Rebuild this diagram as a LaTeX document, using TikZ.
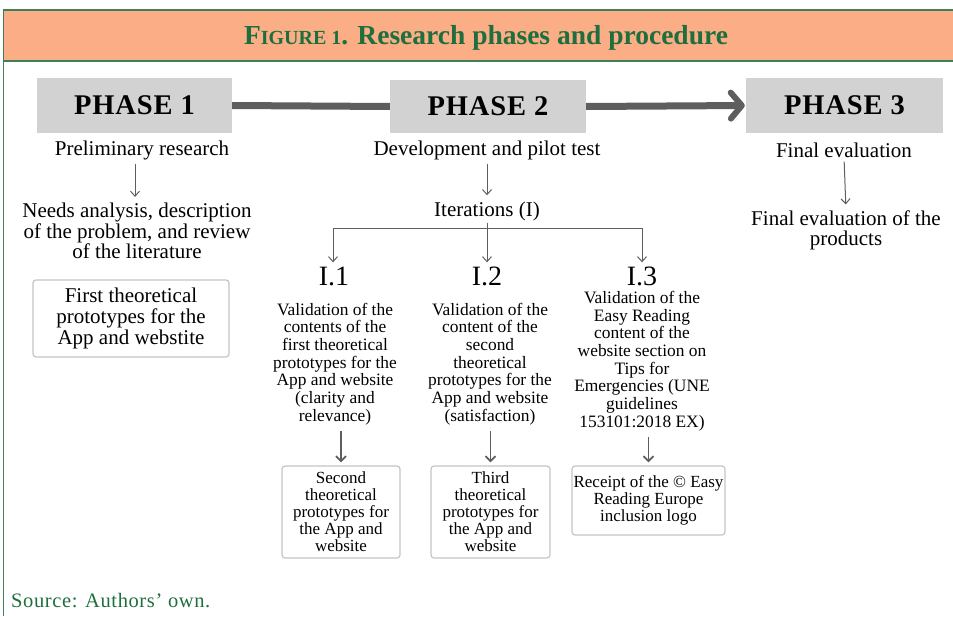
\documentclass[tikz,border=0pt]{standalone}
\usepackage{fontspec}
\setmainfont{Liberation Serif}
\usetikzlibrary{arrows.meta}
\definecolor{hdr}{HTML}{FBAE85}
\definecolor{frm}{HTML}{3F7F5A}
\definecolor{ttl}{HTML}{1F6E3E}
\definecolor{phasefill}{HTML}{D2D2D2}
\definecolor{arr}{HTML}{5E5E5E}
\definecolor{boxline}{HTML}{C4C4C4}
\tikzset{
 phasebox/.style={fill=phasefill, inner sep=0pt, font=\fontsize{28.5}{28.5}\selectfont\bfseries\addfontfeature{LetterSpace=3}},
 body/.style={align=center, font=\fontsize{21}{20.5}\selectfont, inner sep=0pt},
 smalltxt/.style={align=center, font=\fontsize{17.4}{17.7}\selectfont, inner sep=0pt},
 iter/.style={font=\fontsize{28}{28}\selectfont, inner sep=0pt},
 outbox/.style={draw=boxline, line width=1.2pt, rounded corners=3pt, align=center, inner sep=0pt},
 thinarr/.style={draw=arr, line width=1pt, -{Straight Barb[length=5pt,width=9pt]}},
 medarr/.style={draw=arr, line width=1.8pt, -{Straight Barb[length=5pt,width=10pt]}},
 thickline/.style={draw=arr, line width=7pt},
}
\begin{document}
\begin{tikzpicture}[x=1pt,y=-1pt]
\useasboundingbox (0,0) rectangle (953,616);
% header
\fill[hdr] (3,10) rectangle (953,61);
\draw[frm, line width=1.5pt] (953,10) -- (3.5,10) -- (3.5,616);
\draw[frm, line width=1.5pt] (3.5,61) -- (953,61);
\node[text=ttl, inner sep=0pt] (title) at (486,38)
  {\fontsize{27.5}{27.5}\selectfont\bfseries F{\fontsize{20}{20}\selectfont IGURE 1}. Research phases and procedure};
% phases
\node[phasebox, minimum width=195pt, minimum height=55pt] (p1) at (134.5,105.5) {PHASE 1};
\node[phasebox, minimum width=196pt, minimum height=53pt] (p2) at (488,106.5) {PHASE 2};
\node[phasebox, minimum width=197pt, minimum height=55pt] (p3) at (844.5,105.5) {PHASE 3};
\draw[thickline] (p1.east) -- (p2.west);
\draw[thickline, -{Straight Barb[length=11pt,width=26pt,line width=6pt,round]}, shorten >=1pt] (p2.east) -- (p3.west);
% phase 1 column
\node[body] (pr) at (142,150) {Preliminary research};
\node[body] (needs) at (137,231) {Needs analysis, description\\of the problem, and review\\of the literature};
\draw[thinarr, shorten <=4pt, shorten >=6pt] (pr.south -| 135,0) -- (needs.north -| 135,0);
\node[outbox, minimum width=196pt, minimum height=77pt, font=\fontsize{21}{21}\selectfont] (first) at (131,318.5)
  {First theoretical\\prototypes for the\\App and webstite};
% phase 2 column
\node[body] (dev) at (487,150) {Development and pilot test};
\node[body] (it) at (487,211) {Iterations (I)};
\draw[thinarr, shorten <=4pt, shorten >=6pt] (dev.south) -- (it.north);
\coordinate (brL) at (333,228);
\coordinate (brR) at (642,228);
\node[iter] (i1) at (334,276) {I.1};
\node[iter] (i2) at (487,276) {I.2};
\node[iter] (i3) at (642,276) {I.3};
\draw[draw=arr, line width=1pt] (brL) -- (brR);
\draw[thinarr, shorten >=4pt] (brL) -- (brL |- i1.north);
\draw[thinarr, shorten >=4pt, shorten <=2pt] (it.south) -- (it.south |- i2.north);
\draw[thinarr, shorten >=4pt] (brR) -- (brR |- i3.north);
\node[smalltxt] (i1t) at (335,364) {Validation of the\\contents of the\\first theoretical\\prototypes for the\\App and website\\(clarity and\\relevance)};
\node[smalltxt] (i2t) at (490,364) {Validation of the\\content of the\\second\\theoretical\\prototypes for the\\App and website\\(satisfaction)};
\node[smalltxt] (i3t) at (642,361) {Validation of the\\Easy Reading\\content of the\\website section on\\Tips for\\Emergencies (UNE\\guidelines\\153101:2018 EX)};
\node[outbox, minimum width=118pt, minimum height=92pt, font=\fontsize{17}{17}\selectfont] (b2) at (341,512)
  {Second\\theoretical\\prototypes for\\the App and\\website};
\node[outbox, minimum width=119pt, minimum height=92pt, font=\fontsize{17}{17}\selectfont] (b3) at (490.5,512)
  {Third\\theoretical\\prototypes for\\the App and\\website};
\node[outbox, minimum width=153pt, minimum height=69pt, font=\fontsize{17}{17}\selectfont] (b4) at (648.5,500.5)
  {Receipt of the © Easy\\Reading Europe\\inclusion logo};
\draw[medarr, shorten <=6pt, shorten >=3pt] (b2.north |- i1t.south) -- (b2.north);
\draw[medarr, shorten <=6pt, shorten >=3pt] (b3.north |- i2t.south) -- (b3.north);
\draw[medarr, shorten <=6pt, shorten >=3pt] (b4.north |- i3t.south) -- (b4.north);
% phase 3 column
\node[body] (fe) at (844,150) {Final evaluation};
\node[body] (fep) at (846,230.5) {Final evaluation of the\\products};
\draw[thinarr, shorten <=4pt, shorten >=6pt] (fe.south) -- (fep.north);
% source
\node[anchor=west, text=ttl, inner sep=0pt, font=\fontsize{20.5}{20.5}\selectfont\addfontfeature{LetterSpace=3}] (src) at (11,601) {Source: Authors’ own.};
\end{tikzpicture}
\end{document}
